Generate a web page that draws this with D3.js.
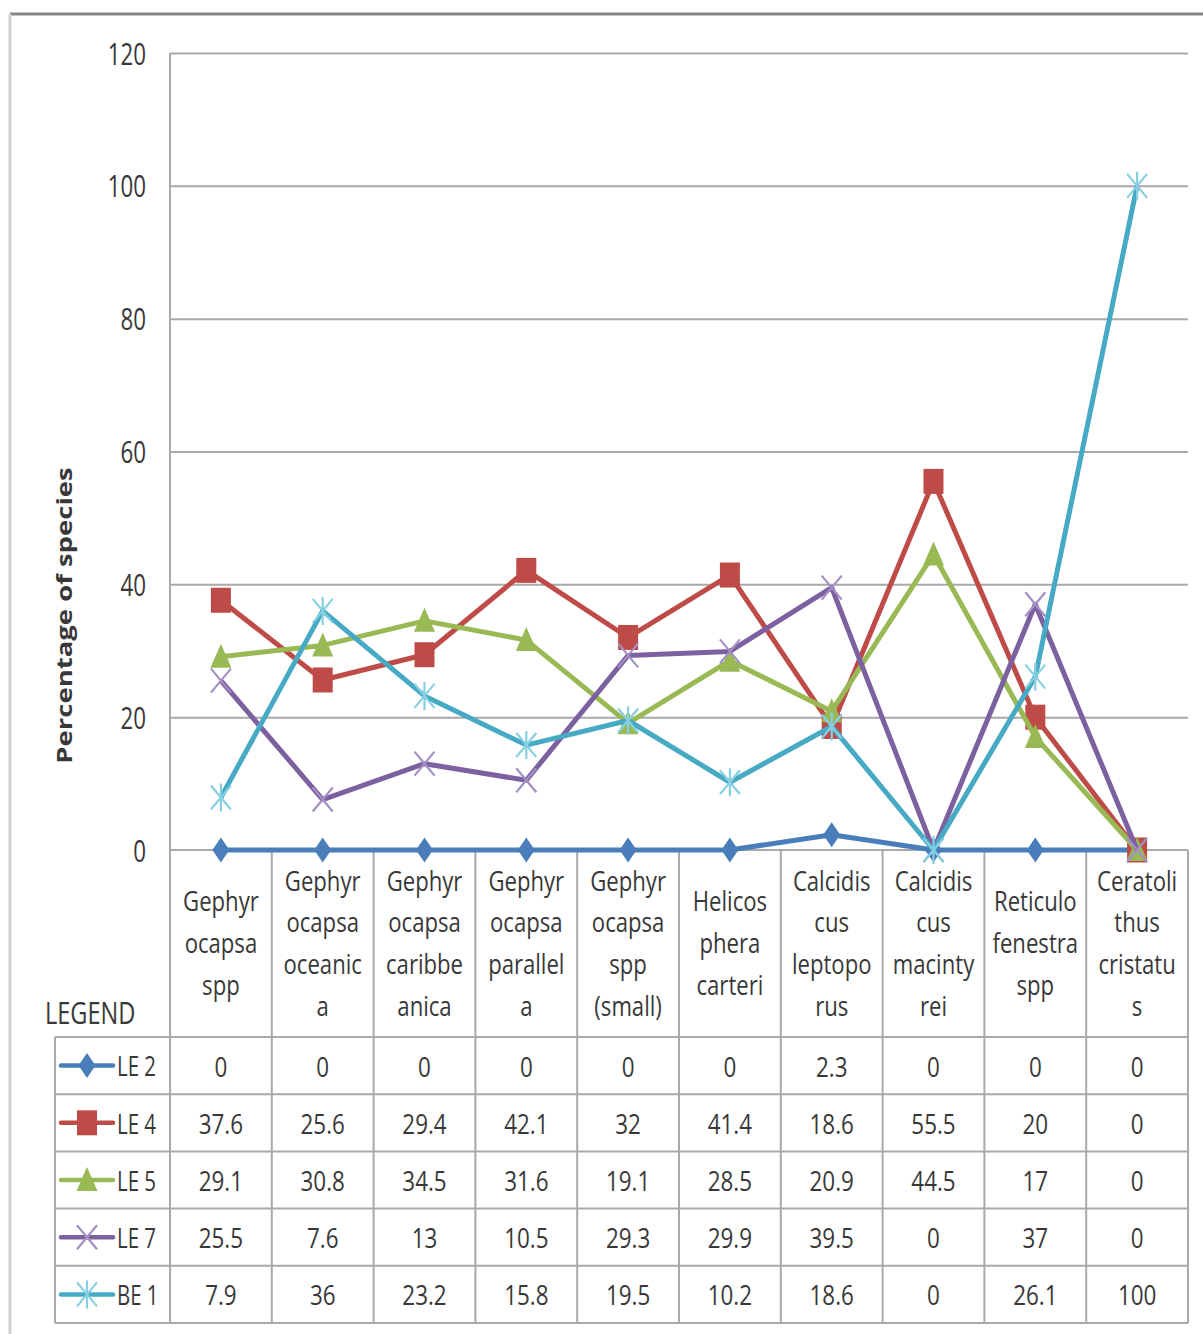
<!DOCTYPE html>
<html>
<head>
<meta charset="utf-8">
<script src="https://cdn.jsdelivr.net/npm/d3@7"></script>
<style>
  html, body { margin: 0; padding: 0; background: #fff; }
  svg { display: block; }
  text { font-family: "Open Sans", "Liberation Sans", sans-serif; fill: #383838; }
</style>
</head>
<body>
<div id="chart"></div>
<script>
// ---------- data ----------
const categoryLines = [
  ["Gephyr", "ocapsa", "spp"],
  ["Gephyr", "ocapsa", "oceanic", "a"],
  ["Gephyr", "ocapsa", "caribbe", "anica"],
  ["Gephyr", "ocapsa", "parallel", "a"],
  ["Gephyr", "ocapsa", "spp", "(small)"],
  ["Helicos", "phera", "carteri"],
  ["Calcidis", "cus", "leptopo", "rus"],
  ["Calcidis", "cus", "macinty", "rei"],
  ["Reticulo", "fenestra", "spp"],
  ["Ceratoli", "thus", "cristatu", "s"]
];
const seriesNames = ["LE 2", "LE 4", "LE 5", "LE 7", "BE 1"];
const le2 = [0, 0, 0, 0, 0, 0, 2.3, 0, 0, 0];
const le4 = [37.6, 25.6, 29.4, 42.1, 32, 41.4, 18.6, 55.5, 20, 0];
const le5 = [29.1, 30.8, 34.5, 31.6, 19.1, 28.5, 20.9, 44.5, 17, 0];
const le7 = [25.5, 7.6, 13, 10.5, 29.3, 29.9, 39.5, 0, 37, 0];
const be1 = [7.9, 36, 23.2, 15.8, 19.5, 10.2, 18.6, 0, 26.1, 100];
const yTicks = [0, 20, 40, 60, 80, 100, 120];
const yTitle = "Percentage of species";
const legendTitle = "LEGEND";

// ---------- styles ----------
const seriesValues = [le2, le4, le5, le7, be1];
const colors = ["#4a7ebb", "#be4b48", "#98b954", "#7d60a0", "#46aac5"];
const markerStroke = ["#4a7ebb", "#be4b48", "#98b954", "#a48fc4", "#86d0e2"];
const markerKinds = ["diamond", "square", "triangle", "x", "star"];

const W = 1203, H = 1334;
const plotL = 170, plotR = 1188, plotT = 53, plotB = 850;
const headerB = 1037, tableB = 1323, legendL = 55;
const gridColor = "#a9a9a9";

const svg = d3.select("#chart").append("svg").attr("width", W).attr("height", H);

// outer frame
svg.append("line").attr("x1", 10).attr("x2", W).attr("y1", 14).attr("y2", 14)
  .attr("stroke", "#858585").attr("stroke-width", 3);
svg.append("line").attr("x1", 10).attr("x2", 10).attr("y1", 14).attr("y2", H)
  .attr("stroke", "#d2d2d2").attr("stroke-width", 3);

const x = d3.scaleBand().domain(d3.range(categoryLines.length)).range([plotL, plotR]);
const y = d3.scaleLinear().domain([0, 120]).range([plotB, plotT]);
const cx = i => x(i) + x.bandwidth() / 2;

// gridlines
const grid = svg.append("g").attr("transform", `translate(${plotL},0)`)
  .call(d3.axisLeft(y).tickValues(yTicks.filter(t => t > 0)).tickSize(-(plotR - plotL)).tickFormat(""));
grid.select(".domain").remove();
grid.selectAll(".tick line").attr("stroke", gridColor).attr("stroke-width", 2);

// y tick labels
const yAxis = svg.append("g").attr("transform", `translate(${plotL},0)`)
  .call(d3.axisLeft(y).tickValues(yTicks).tickSize(0));
yAxis.select(".domain").remove();
yAxis.selectAll(".tick text")
  .attr("x", 0).attr("dy", null)
  .attr("transform", "translate(-24,-1) scale(0.72,1)")
  .attr("dominant-baseline", "central")
  .style("font-size", "31px").attr("fill", "#383838");

// y title
svg.append("text")
  .attr("transform", `translate(64,${(463 + 768) / 2}) rotate(-90) scale(1,0.76)`)
  .attr("text-anchor", "middle").attr("dominant-baseline", "central")
  .style("font-size", "27.5px").style("font-weight", "bold").attr("fill", "#262626")
  .text(yTitle);

// table lines
const tbl = svg.append("g").attr("stroke", gridColor).attr("stroke-width", 2);
tbl.append("line").attr("x1", plotL).attr("x2", plotL).attr("y1", plotT).attr("y2", tableB);
d3.range(1, categoryLines.length + 1).forEach(i => {
  const xx = i < categoryLines.length ? x(i) : plotR;
  tbl.append("line").attr("x1", xx).attr("x2", xx).attr("y1", plotB).attr("y2", tableB);
});
tbl.append("line").attr("x1", plotL).attr("x2", plotR).attr("y1", plotB).attr("y2", plotB);
const rowH = (tableB - headerB) / seriesNames.length;
d3.range(seriesNames.length + 1).forEach(r => {
  const yy = headerB + r * rowH;
  tbl.append("line").attr("x1", legendL).attr("x2", plotR).attr("y1", yy).attr("y2", yy);
});
tbl.append("line").attr("x1", legendL).attr("x2", legendL).attr("y1", headerB).attr("y2", tableB);

// category header labels
const lineGap = 41.7;
const headerMid = (plotB + headerB) / 2 - 1.5;
categoryLines.forEach((lines, i) => {
  lines.forEach((ln, k) => {
    const yy = headerMid + (k - (lines.length - 1) / 2) * lineGap;
    svg.append("text")
      .attr("transform", `translate(${cx(i)},${yy}) scale(0.79,1)`)
      .attr("text-anchor", "middle").attr("dominant-baseline", "central")
      .style("font-size", "28px").text(ln);
  });
});

// LEGEND title
svg.append("text")
  .attr("transform", `translate(45,${1012}) scale(0.76,1)`)
  .attr("dominant-baseline", "central")
  .style("font-size", "31px").text(legendTitle);

// marker symbols
function markerPath(kind) {
  const p = d3.path();
  if (kind === "diamond") {
    p.moveTo(0, -12.5); p.lineTo(8.5, 0); p.lineTo(0, 12.5); p.lineTo(-8.5, 0); p.closePath();
  } else if (kind === "square") {
    p.rect(-10, -12.5, 20, 25);
  } else if (kind === "triangle") {
    p.moveTo(0, -13); p.lineTo(10.5, 11); p.lineTo(-10.5, 11); p.closePath();
  } else if (kind === "x") {
    p.moveTo(-10, -12); p.lineTo(10, 12); p.moveTo(-10, 12); p.lineTo(10, -12);
  } else if (kind === "star") {
    p.moveTo(-10, -12); p.lineTo(10, 12); p.moveTo(-10, 12); p.lineTo(10, -12);
    p.moveTo(0, -14); p.lineTo(0, 14);
  }
  return p.toString();
}
function drawMarker(g, kind, si, px, py) {
  const filled = kind === "diamond" || kind === "square" || kind === "triangle";
  g.append("path").attr("d", markerPath(kind))
    .attr("transform", `translate(${px},${py})`)
    .attr("fill", filled ? colors[si] : "none")
    .attr("stroke", filled ? "none" : markerStroke[si])
    .attr("stroke-width", filled ? 0 : 2.2);
}

// series lines and markers
const line = d3.line().x((d, i) => cx(i)).y(d => y(d));
seriesValues.forEach((vals, si) => {
  const g = svg.append("g");
  g.append("path").datum(vals).attr("d", line)
    .attr("fill", "none").attr("stroke", colors[si]).attr("stroke-width", 5)
    .attr("stroke-linejoin", "round");
  vals.forEach((v, i) => drawMarker(g, markerKinds[si], si, cx(i), y(v)));
});

// table rows: legend keys + values
seriesNames.forEach((name, si) => {
  const yy = headerB + (si + 0.5) * rowH;
  const g = svg.append("g");
  g.append("line").attr("x1", 61).attr("x2", 113).attr("y1", yy).attr("y2", yy)
    .attr("stroke", colors[si]).attr("stroke-width", 4.5).attr("stroke-linecap", "round");
  drawMarker(g, markerKinds[si], si, 87, yy);
  g.append("text")
    .attr("transform", `translate(117,${yy}) scale(0.73,1)`)
    .attr("dominant-baseline", "central")
    .style("font-size", "28px").text(name);
  seriesValues[si].forEach((v, i) => {
    g.append("text")
      .attr("transform", `translate(${cx(i)},${yy}) scale(0.8,1)`)
      .attr("text-anchor", "middle").attr("dominant-baseline", "central")
      .style("font-size", "28px").text(String(v));
  });
});
</script>
</body>
</html>
